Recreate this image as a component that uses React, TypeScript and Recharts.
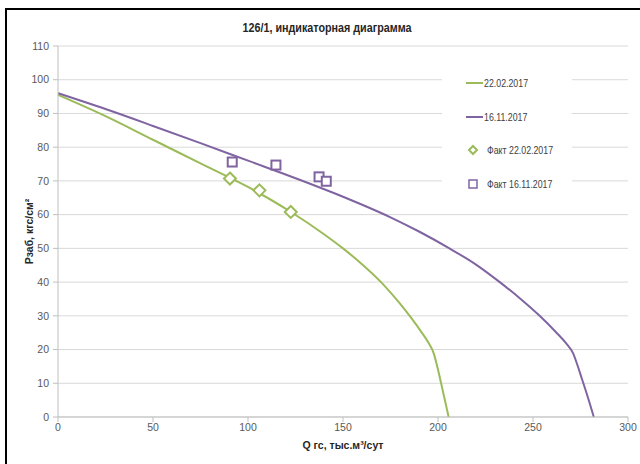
import React from 'react';
import {
  ComposedChart,
  Line,
  Scatter,
  XAxis,
  YAxis,
  CartesianGrid,
  Legend,
  Label,
} from 'recharts';

// индикаторные кривые: дебит Q (тыс. м3/сут) -> забойное давление (кгс/см2)
const curve22022017 = [
  { q: 0, p: 95.5 },
  { q: 25, p: 89.2 },
  { q: 50, p: 82.2 },
  { q: 75, p: 75.2 },
  { q: 100, p: 68.2 },
  { q: 122, p: 61.0 },
  { q: 140, p: 54.2 },
  { q: 150, p: 50.0 },
  { q: 160, p: 45.3 },
  { q: 170, p: 40.0 },
  { q: 180, p: 33.6 },
  { q: 186, p: 29.3 },
  { q: 191, p: 25.4 },
  { q: 195, p: 22.0 },
  { q: 197.8, p: 18.8 },
  { q: 199.8, p: 14.5 },
  { q: 201.8, p: 9.6 },
  { q: 203.7, p: 4.8 },
  { q: 205.6, p: 0 },
];

const curve16112017 = [
  { q: 0, p: 96.0 },
  { q: 25, p: 91.3 },
  { q: 50, p: 86.3 },
  { q: 75, p: 81.2 },
  { q: 100, p: 76.0 },
  { q: 125, p: 70.8 },
  { q: 150, p: 65.3 },
  { q: 175, p: 59.2 },
  { q: 190, p: 55.0 },
  { q: 206, p: 50.0 },
  { q: 220, p: 45.2 },
  { q: 232.5, p: 40.0 },
  { q: 243.5, p: 35.0 },
  { q: 253.5, p: 30.0 },
  { q: 262, p: 25.2 },
  { q: 267.5, p: 21.8 },
  { q: 271, p: 19.0 },
  { q: 273.5, p: 15.2 },
  { q: 275.8, p: 11.2 },
  { q: 278, p: 7.4 },
  { q: 280, p: 3.8 },
  { q: 282, p: 0 },
];

// фактические замеры
const fact22022017 = [
  { q: 90.5, p: 70.7 },
  { q: 106, p: 67.2 },
  { q: 122.5, p: 60.8 },
];

const fact16112017 = [
  { q: 91.7, p: 75.6 },
  { q: 114.7, p: 74.7 },
  { q: 137.4, p: 71.2 },
  { q: 141.2, p: 69.9 },
];

const xTicks = [0, 50, 100, 150, 200, 250, 300];
const yTicks = [0, 10, 20, 30, 40, 50, 60, 70, 80, 90, 100, 110];

const GREEN = '#9BBB59';
const PURPLE = '#8064A2';
const FONT = "'Liberation Sans', Arial, sans-serif";

const Diamond = ({ cx, cy }: any) => (
  <path
    d={`M${cx},${cy - 6} L${cx + 6},${cy} L${cx},${cy + 6} L${cx - 6},${cy} Z`}
    fill="#fff"
    stroke={GREEN}
    strokeWidth={2}
  />
);

const Square = ({ cx, cy }: any) => (
  <rect x={cx - 4.5} y={cy - 4.5} width={9} height={9} fill="#fff" stroke={PURPLE} strokeWidth={2} />
);

const legendItems = [
  { label: '22.02.2017', kind: 'line', color: GREEN },
  { label: '16.11.2017', kind: 'line', color: PURPLE },
  { label: 'Факт 22.02.2017', kind: 'diamond', color: GREEN },
  { label: 'Факт 16.11.2017', kind: 'square', color: PURPLE },
];

const ChartLegend = () => (
  <div style={{ fontFamily: FONT, fontSize: 11, color: '#404040' }}>
    {legendItems.map((item) => (
      <div key={item.label} style={{ height: 33.7, display: 'flex', alignItems: 'center' }}>
        <svg width={28} height={14} style={{ marginLeft: 14, flex: 'none' }}>
          {item.kind === 'line' && <line x1={10} y1={7} x2={27} y2={7} stroke={item.color} strokeWidth={2} />}
          {item.kind === 'diamond' && (
            <path d="M17,3 L21,7 L17,11 L13,7 Z" fill="#fff" stroke={item.color} strokeWidth={2} />
          )}
          {item.kind === 'square' && (
            <rect x={13} y={3} width={8} height={8} fill="#fff" stroke={item.color} strokeWidth={1.5} />
          )}
        </svg>
        <span
          style={{
            marginLeft: item.kind === 'line' ? 0 : 3,
            display: 'inline-block',
            whiteSpace: 'nowrap',
            transform: 'scaleX(0.8)',
            transformOrigin: 'left center',
          }}
        >
          {item.label}
        </span>
      </div>
    ))}
  </div>
);

const App = () => {
  return (
    <div style={{ position: 'absolute', left: 0, top: 0, width: 640, height: 464, overflow: 'hidden', background: '#fff' }}>
      <div
        style={{
          position: 'absolute',
          left: 5,
          top: 8,
          width: 660,
          height: 480,
          border: '2.5px solid #000',
          boxSizing: 'border-box',
        }}
      />
      <div
        style={{
          position: 'absolute',
          left: 0,
          top: 21,
          width: 654,
          textAlign: 'center',
          fontFamily: FONT,
          fontWeight: 'bold',
          fontSize: 12.5,
          color: '#262626',
          transform: 'scaleX(0.86)',
          transformOrigin: '327px 0',
        }}
      >
        126/1, индикаторная диаграмма
      </div>
      <div style={{ position: 'absolute', left: 0, top: 0 }}>
        <ComposedChart width={640} height={464} margin={{ top: 46, right: 12, bottom: 7, left: 8 }}>
          <CartesianGrid vertical={false} stroke="#d9d9d9" />
          <XAxis
            type="number"
            dataKey="q"
            domain={[0, 300]}
            ticks={xTicks}
            height={40}
            stroke="#bfbfbf"
            tickSize={5}
            tick={{ fill: '#595959', fontSize: 10.5, fontFamily: FONT }}
          >
            <Label
              value="Q гс, тыс.м³/сут"
              position="insideBottom"
              offset={8}
              style={{ fill: '#262626', fontSize: 10.5, fontWeight: 'bold', fontFamily: FONT }}
            />
          </XAxis>
          <YAxis
            type="number"
            domain={[0, 110]}
            ticks={yTicks}
            width={50}
            stroke="#bfbfbf"
            tickSize={5}
            tickMargin={4}
            tick={{ fill: '#595959', fontSize: 10.5, fontFamily: FONT }}
          >
            <Label
              value="Рзаб, кгс/см²"
              angle={-90}
              position="center"
              dx={-4}
              style={{ fill: '#262626', fontSize: 10.5, fontWeight: 'bold', fontFamily: FONT }}
            />
          </YAxis>
          <Line data={curve22022017} dataKey="p" type="monotone" stroke={GREEN} strokeWidth={2} dot={false} isAnimationActive={false} />
          <Line data={curve16112017} dataKey="p" type="monotone" stroke={PURPLE} strokeWidth={2} dot={false} isAnimationActive={false} />
          <Scatter data={fact22022017} dataKey="p" shape={Diamond} isAnimationActive={false} />
          <Scatter data={fact16112017} dataKey="p" shape={Square} isAnimationActive={false} />
          <Legend
            layout="vertical"
            align="center"
            verticalAlign="middle"
            content={() => <ChartLegend />}
            wrapperStyle={{ left: 442, top: 66, width: 130, height: 136, background: '#fff' }}
          />
        </ComposedChart>
      </div>
    </div>
  );
};

export default App;
